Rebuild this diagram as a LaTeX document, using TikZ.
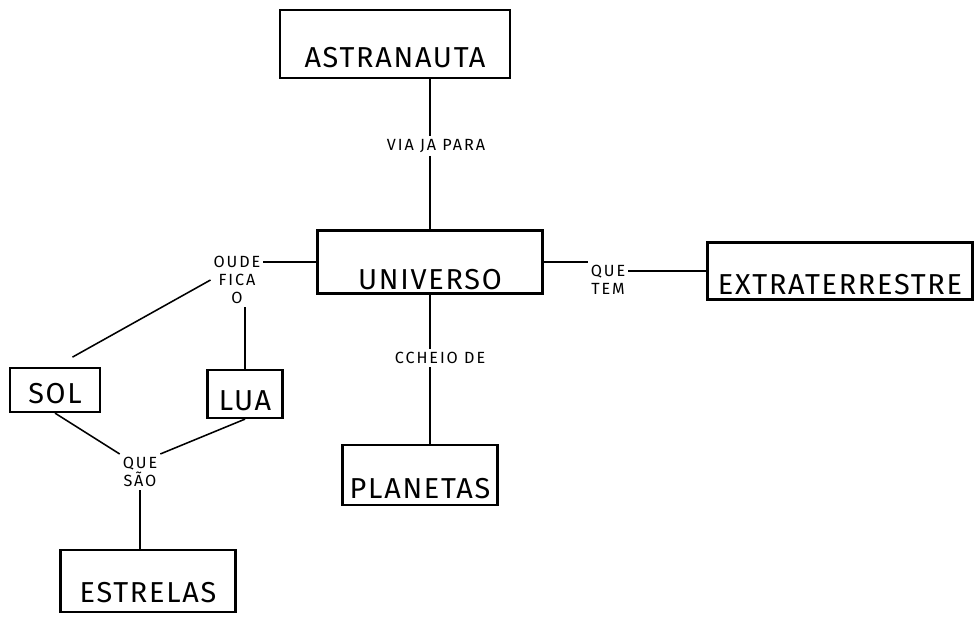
\documentclass[tikz,border=0pt]{standalone}
\usepackage{fontspec}
\setmainfont{Fira Sans}
\newfontfamily\spacedfont[LetterSpace=6]{Fira Sans}
\newfontfamily\lblfont[LetterSpace=12]{Fira Sans}
\begin{document}
\begin{tikzpicture}[x=0.025cm,y=-0.025cm,
  box/.style={draw, line width=1.6pt, inner sep=0pt},
  boxtext/.style={font=\spacedfont\fontsize{20.5}{22}\selectfont, inner sep=0pt},
  lbl/.style={font=\lblfont\fontsize{11.5}{13}\selectfont, align=center, inner sep=2pt},
  conn/.style={line width=1.1pt}]
\useasboundingbox (0,0) rectangle (974,617);
\node[box, minimum width=230*0.025cm, minimum height=68*0.025cm,
  label={[boxtext, yshift=-0.35cm]center:ASTRANAUTA}] (astr) at (395,44) {};
\node[box, minimum width=225*0.025cm, minimum height=63*0.025cm,
  label={[boxtext, yshift=-0.45cm]center:UNIVERSO}] (univ) at (430,262) {};
\node[box, minimum width=155*0.025cm, minimum height=60*0.025cm,
  label={[boxtext, yshift=-0.35cm]center:PLANETAS}] (plan) at (420,475) {};
\node[box, minimum width=265*0.025cm, minimum height=57*0.025cm,
  label={[boxtext, yshift=-0.35cm]center:EXTRATERRESTRE}] (extra) at (840,271) {};
\node[box, minimum width=90*0.025cm, minimum height=44*0.025cm,
  label={[boxtext, yshift=-0.1cm]center:SOL}] (sol) at (55,390) {};
\node[box, minimum width=75*0.025cm, minimum height=48*0.025cm,
  label={[boxtext, yshift=-0.18cm]center:LUA}] (lua) at (245,394) {};
\node[box, minimum width=175*0.025cm, minimum height=62*0.025cm,
  label={[boxtext, yshift=-0.3cm]center:ESTRELAS}] (estr) at (148,581) {};
\node[lbl] (via) at (436,146) {VIA JA PARA};
\node[lbl] (cheio) at (440,358) {CCHEIO DE};
\node[lbl] (quetem) at (608,280) {QUE\\TEM};
\node[lbl] (onde) at (237,280) {OUDE\\FICA\\O};
\node[lbl] (quesao) at (140,472) {QUE\\SÃO};
\draw[conn] (astr.south -| univ) -- (via.north -| univ);
\draw[conn] (via.south -| univ) -- (univ.north);
\draw[conn] (univ.south) -- (cheio.north -| univ);
\draw[conn] (cheio.south -| univ) -- (plan.north -| univ);
\draw[conn] (univ.east) -- (univ.east -| quetem.west);
\draw[conn] (quetem.east |- extra.west) -- (extra.west);
\draw[conn] (onde.east |- univ.west) -- (univ.west);
\draw[conn, shorten >=0.5cm] (onde.west) -- (sol.north);
\draw[conn] (onde.south -| lua) -- (lua.north);
\draw[conn] (sol.south) -- (quesao.north west);
\draw[conn] (lua.south) -- (quesao.north east);
\draw[conn] (quesao.south) -- (estr.north -| quesao);
\end{tikzpicture}
\end{document}
